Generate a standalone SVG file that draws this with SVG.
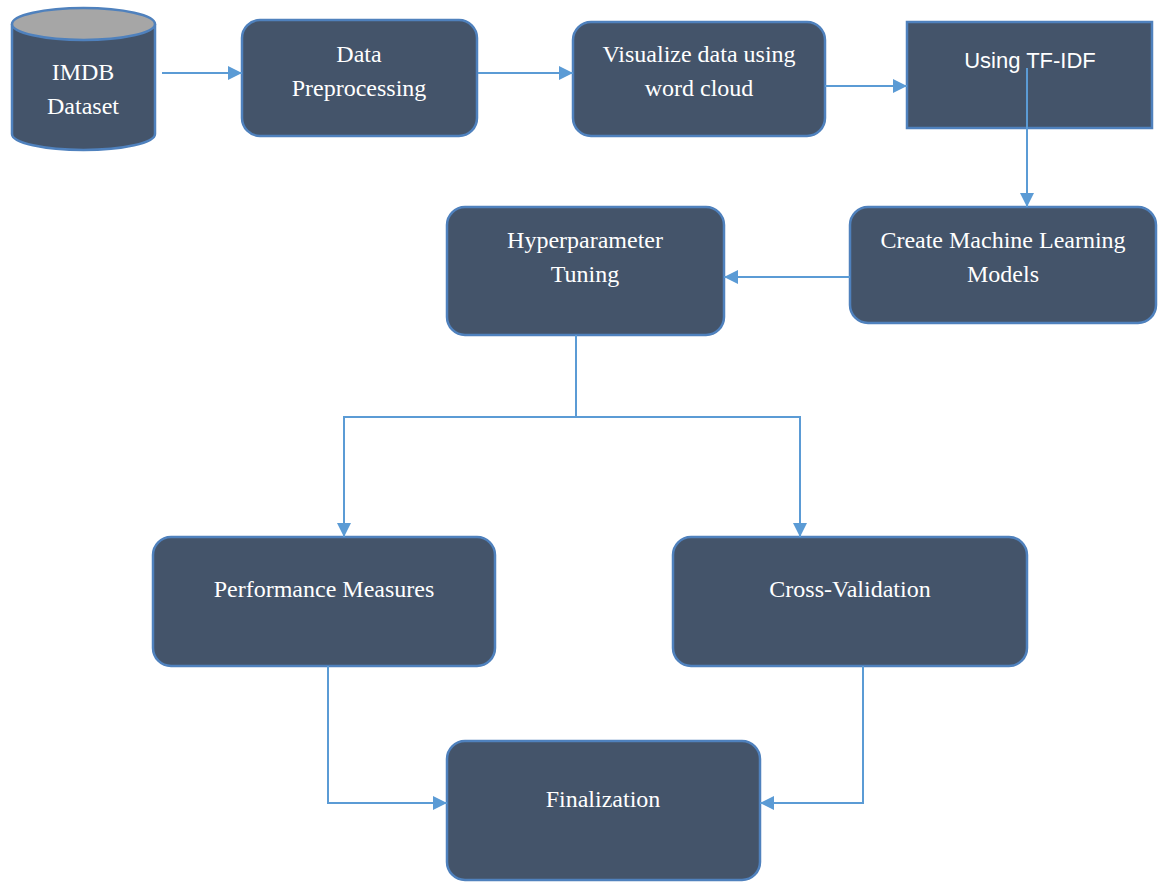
<svg xmlns="http://www.w3.org/2000/svg" width="1158" height="884" viewBox="0 0 1158 884">
<style>
.box{fill:#44546A;stroke:#4F81BD;stroke-width:2.5}
.t{font-family:"Liberation Serif",serif;font-size:24px;fill:#FFFFFF;text-anchor:middle}
.ts{font-family:"Liberation Sans",sans-serif;font-size:22px;fill:#FFFFFF;text-anchor:middle}
.c{fill:none;stroke:#5B9BD5;stroke-width:2}
</style>
<defs>
<marker id="ah" viewBox="0 0 10 10" refX="10" refY="5" markerWidth="7" markerHeight="7" markerUnits="strokeWidth" orient="auto">
<path d="M0,0 L10,5 L0,10 z" fill="#5B9BD5"/>
</marker>
</defs>
<rect width="1158" height="884" fill="#FFFFFF"/>
<g id="imdb">
<path class="box" d="M12,24 L12,134 A71.5,16 0 0 0 155,134 L155,24"/>
<ellipse cx="83.5" cy="24" rx="71.5" ry="16" fill="#A6A6A6" stroke="#4F81BD" stroke-width="2.5"/>
<text class="t" x="83" y="80">IMDB</text>
<text class="t" x="83" y="114">Dataset</text>
</g>
<g id="preprocess">
<rect class="box" x="242" y="20" width="235" height="116" rx="18"/>
<text class="t" x="359" y="62">Data</text>
<text class="t" x="359" y="96">Preprocessing</text>
</g>
<g id="visualize">
<rect class="box" x="573" y="22" width="252" height="114" rx="18"/>
<text class="t" x="699" y="62">Visualize data using</text>
<text class="t" x="699" y="96">word cloud</text>
</g>
<g id="tfidf">
<rect class="box" x="907" y="22" width="245" height="106"/>
<text class="ts" x="1030" y="68">Using TF-IDF</text>
</g>
<g id="create">
<rect class="box" x="850" y="207" width="306" height="116" rx="18"/>
<text class="t" x="1003" y="248">Create Machine Learning</text>
<text class="t" x="1003" y="282">Models</text>
</g>
<g id="hyper">
<rect class="box" x="447" y="207" width="277" height="128" rx="18"/>
<text class="t" x="585" y="248">Hyperparameter</text>
<text class="t" x="585" y="282">Tuning</text>
</g>
<g id="perf">
<rect class="box" x="153" y="537" width="342" height="129" rx="18"/>
<text class="t" x="324" y="597">Performance Measures</text>
</g>
<g id="cv">
<rect class="box" x="673" y="537" width="354" height="129" rx="18"/>
<text class="t" x="850" y="597">Cross-Validation</text>
</g>
<g id="final">
<rect class="box" x="447" y="741" width="313" height="139" rx="18"/>
<text class="t" x="603" y="807">Finalization</text>
</g>
<g id="connectors">
<path class="c" d="M162,73 L242,73" marker-end="url(#ah)"/>
<path class="c" d="M478,73 L573,73" marker-end="url(#ah)"/>
<path class="c" d="M825,86 L907,86" marker-end="url(#ah)"/>
<path class="c" d="M1027,68 L1027,207" marker-end="url(#ah)"/>
<path class="c" d="M850,277 L724,277" marker-end="url(#ah)"/>
<path class="c" d="M576,335 L576,417 L344,417 L344,537" marker-end="url(#ah)"/>
<path class="c" d="M576,417 L800,417 L800,537" marker-end="url(#ah)"/>
<path class="c" d="M328,666 L328,803 L447,803" marker-end="url(#ah)"/>
<path class="c" d="M863,666 L863,803 L760,803" marker-end="url(#ah)"/>
</g>
</svg>
